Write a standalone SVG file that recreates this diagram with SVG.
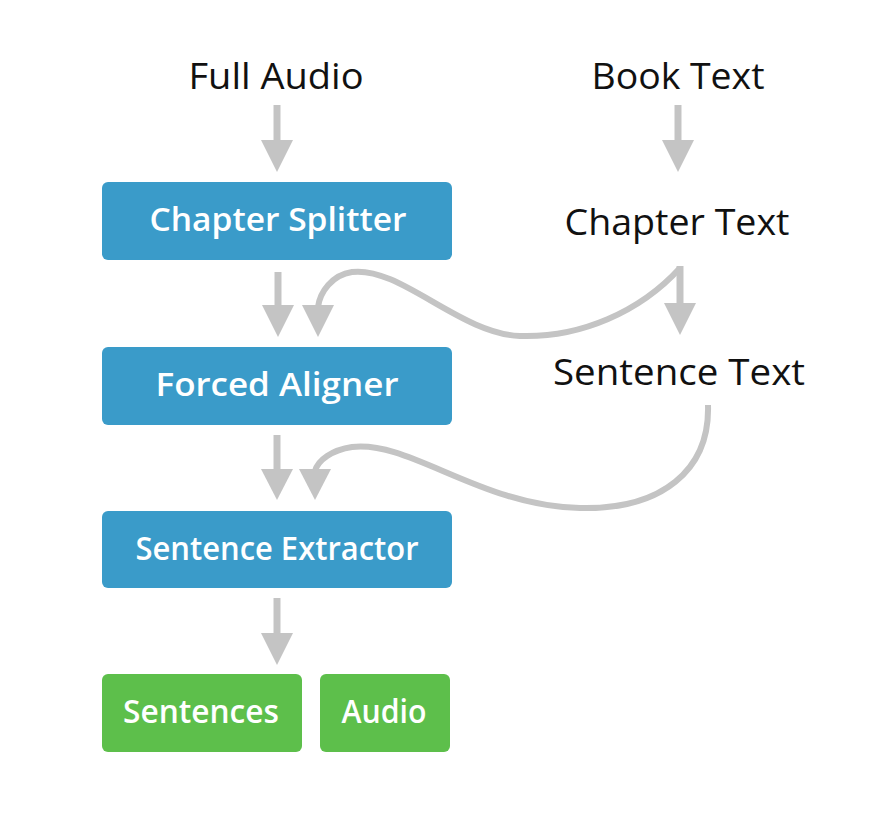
<svg xmlns="http://www.w3.org/2000/svg" width="874" height="816" viewBox="0 0 874 816">
<style>
.lbl{font-family:"Open Sans","Liberation Sans",sans-serif;font-size:36px;fill:#111;text-anchor:middle}
.box{font-family:"Open Sans","Liberation Sans",sans-serif;font-size:33px;font-weight:600;fill:#fff;text-anchor:middle}
.blue{fill:#3a9bc9}
.green{fill:#5dbf4b}
.shaft{stroke:#c4c4c4;stroke-width:7;fill:none}
.curve{stroke:#c4c4c4;stroke-width:6;fill:none}
.head{fill:#c4c4c4}
</style>
<rect width="874" height="816" fill="#fff"/>
<g id="connectors">
  <line class="shaft" x1="277" y1="105" x2="277" y2="142"/>
  <polygon class="head" points="261,140 293,140 277,172"/>
  <line class="shaft" x1="678" y1="105" x2="678" y2="142"/>
  <polygon class="head" points="662,140 694,140 678,172"/>
  <line class="shaft" x1="278" y1="272" x2="278" y2="307"/>
  <polygon class="head" points="262,305 294,305 278,337"/>
  <path class="curve" d="M680,268 C640,312 580,338 520,336 C460,334 400,266 352,272 C332,275 320,292 318,307"/>
  <polygon class="head" points="302,305 334,305 318,337"/>
  <line class="shaft" x1="680" y1="266" x2="680" y2="305"/>
  <polygon class="head" points="664,303 696,303 680,335"/>
  <line class="shaft" x1="277" y1="435" x2="277" y2="471"/>
  <polygon class="head" points="261,469 293,469 277,500"/>
  <path class="curve" d="M708,405 C710,470 662,510 580,508 C480,506 410,440 352,447 C332,450 318,460 315,471"/>
  <polygon class="head" points="299,469 331,469 315,500"/>
  <line class="shaft" x1="277" y1="598" x2="277" y2="635"/>
  <polygon class="head" points="261,633 293,633 277,665"/>
</g>
<g id="full-audio"><text class="lbl" x="276" y="89" textLength="175" lengthAdjust="spacingAndGlyphs">Full Audio</text></g>
<g id="book-text"><text class="lbl" x="678" y="89" textLength="173" lengthAdjust="spacingAndGlyphs">Book Text</text></g>
<g id="chapter-text"><text class="lbl" x="677" y="235" textLength="225" lengthAdjust="spacingAndGlyphs">Chapter Text</text></g>
<g id="sentence-text"><text class="lbl" x="679" y="385" textLength="252" lengthAdjust="spacingAndGlyphs">Sentence Text</text></g>
<g id="chapter-splitter"><rect class="blue" x="102" y="182" width="350" height="78" rx="6"/><text class="box" x="278" y="231" textLength="257" lengthAdjust="spacingAndGlyphs">Chapter Splitter</text></g>
<g id="forced-aligner"><rect class="blue" x="102" y="347" width="350" height="78" rx="6"/><text class="box" x="277" y="396" textLength="243" lengthAdjust="spacingAndGlyphs">Forced Aligner</text></g>
<g id="sentence-extractor"><rect class="blue" x="102" y="511" width="350" height="77" rx="6"/><text class="box" x="277" y="560" textLength="283" lengthAdjust="spacingAndGlyphs">Sentence Extractor</text></g>
<g id="sentences"><rect class="green" x="102" y="674" width="200" height="78" rx="6"/><text class="box" x="201" y="723" textLength="156" lengthAdjust="spacingAndGlyphs">Sentences</text></g>
<g id="audio"><rect class="green" x="320" y="674" width="130" height="78" rx="6"/><text class="box" x="384" y="723" textLength="85" lengthAdjust="spacingAndGlyphs">Audio</text></g>
</svg>
